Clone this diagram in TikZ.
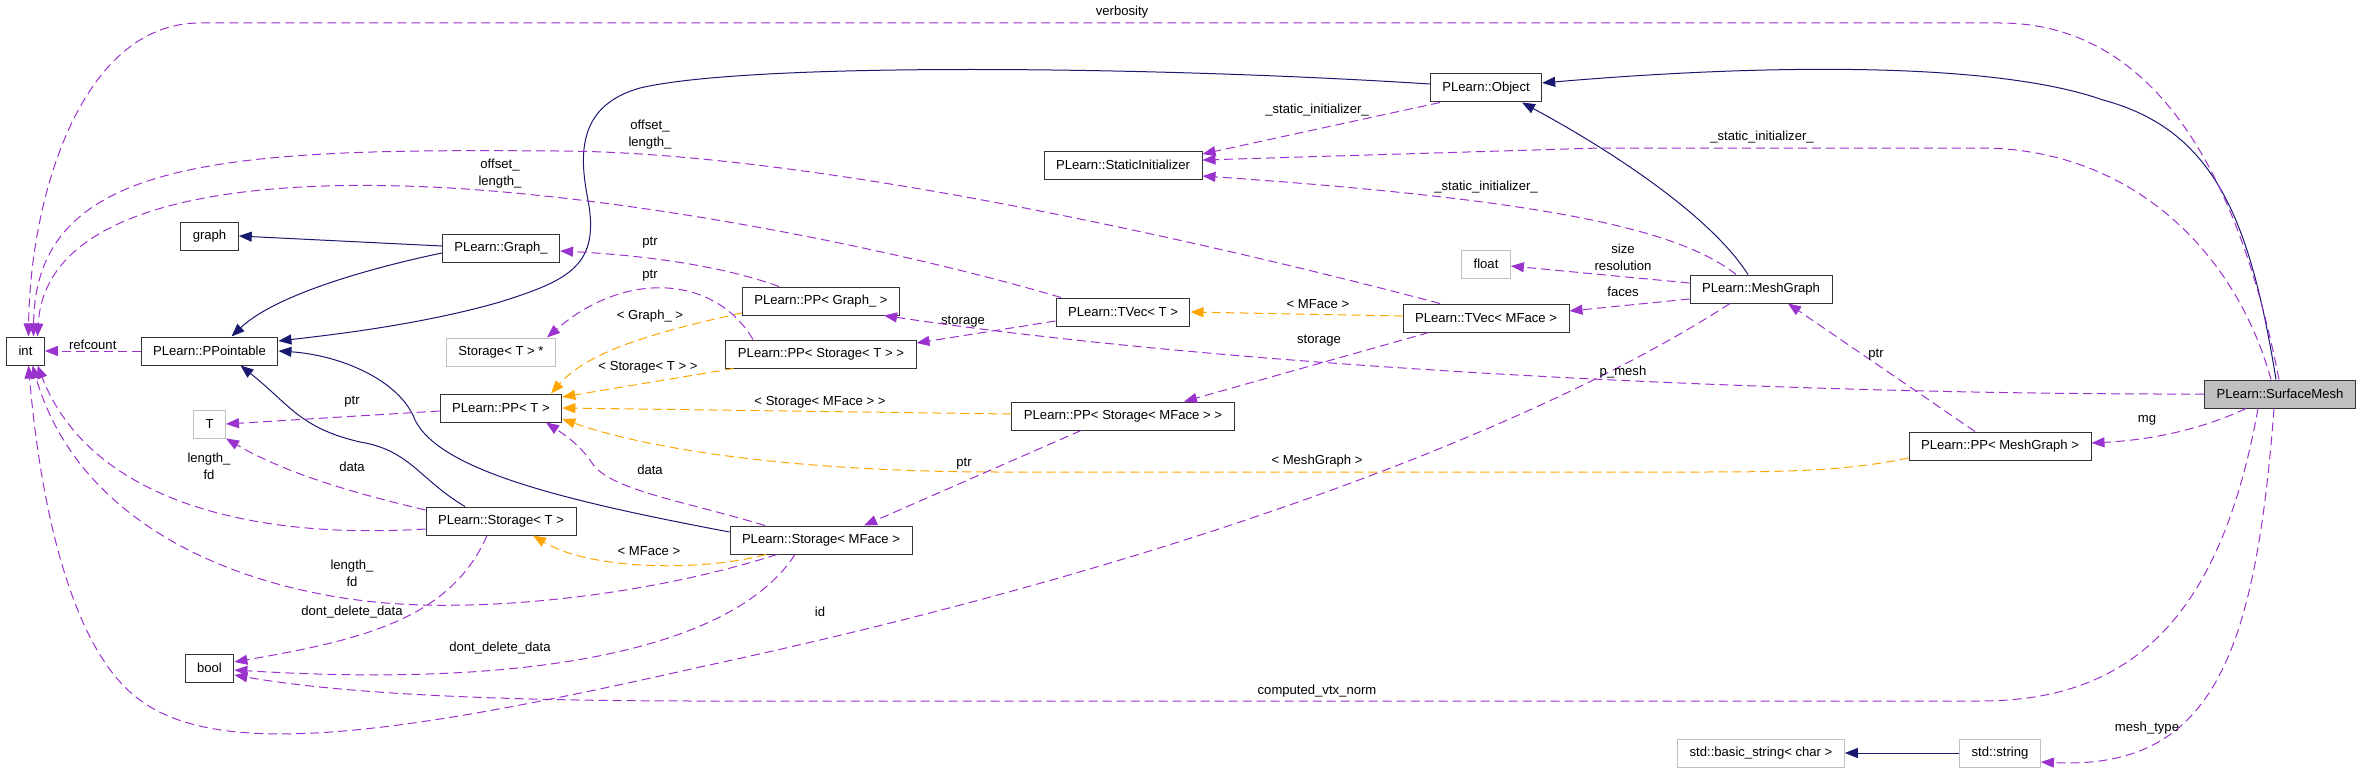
\documentclass[tikz,border=0pt]{standalone}
\usepackage{fontspec}
\setmainfont{Liberation Sans}
\usetikzlibrary{arrows.meta,positioning}
\definecolor{usec}{RGB}{154, 50, 205}
\definecolor{inhc}{RGB}{25, 25, 112}
\definecolor{tmplc}{RGB}{255, 165, 0}
\definecolor{extc}{RGB}{191, 191, 191}
\tikzset{
	cls/.style={
		rectangle, minimum height=28pt, inner xsep=12pt,
		line width=1pt, draw=black!80, fill=white, text=black
	},
	%
	extcls/.style={
		cls, draw=extc
	},
	%
	maincls/.style={
		cls, fill=extc
	},
	%
	inherit/.style={
		-{Triangle[length=13pt,width=10pt]}, line width=1pt, draw=inhc
	},
	%
	member/.style={
		-{Triangle[length=13pt,width=10pt]}, line width=1pt, draw=usec,
		dash pattern=on 9pt off 5pt
	},
	%
	tmpl/.style={
		member, draw=tmplc
	},
	%
	lbl/.style={
		inner sep=1pt, text=black
	}
}

\begin{document}
\begin{tikzpicture}[x=1pt, y=-1pt, font=\fontsize{13.1}{17}\selectfont]
\useasboundingbox (0,0) rectangle (2360,773);

\node(int)[cls] at (25.5,351) {int};
\node(pointable)[cls] at (209.5,351) {PLearn::PPointable};
\node(graph)[cls, above=86pt of pointable] {graph};
\node(tparam)[extcls, below=44pt of pointable] {T};
\node(bool)[cls] at (209.5,668) {bool};

\node(graphu)[cls] at (501,248) {PLearn::Graph\_};
\node(storageptr)[extcls] at (501,352) {Storage< T > *};
\node(ppt)[cls] at (501,408) {PLearn::PP< T >};
\node(storaget)[cls] at (501,521) {PLearn::Storage< T >};

\node(ppgraph)[cls] at (821,301) {PLearn::PP< Graph\_ >};
\node(ppstoraget)[cls] at (821,354) {PLearn::PP< Storage< T > >};
\node(storagemface)[cls] at (821,540) {PLearn::Storage< MFace >};

\node(staticinit)[cls] at (1123,165) {PLearn::StaticInitializer};
\node(tvect)[cls] at (1123,312) {PLearn::TVec< T >};
\node(ppstoragemface)[cls] at (1123,416) {PLearn::PP< Storage< MFace > >};

\node(object)[cls] at (1486,88) {PLearn::Object};
\node(tvecmface)[cls] at (1486,318) {PLearn::TVec< MFace >};
\node(floatt)[extcls, above=25pt of tvecmface] {float};

\node(meshgraph)[cls] at (1761,289) {PLearn::MeshGraph};
\node(basicstring)[extcls] at (1761,753) {std::basic\_string< char >};
\node(ppmeshgraph)[cls] at (2000,446) {PLearn::PP< MeshGraph >};
\node(stdstring)[extcls] at (2000,753) {std::string};
\node(surfacemesh)[maincls] at (2280,394) {PLearn::SurfaceMesh};

% base classes
\draw[inherit] ([xshift=-4pt]surfacemesh.north) .. controls (2250,220) and (2215,130) .. (2103,100) .. controls (1990,60) and (1750,65) .. ([yshift=5pt]object.east);
\draw[inherit] ([xshift=-13pt]meshgraph.north) .. controls (1710,215) and (1610,150) .. ([xshift=36pt]object.south);
\draw[inherit] ([yshift=4pt]object.west) .. controls (1150,66) and (750,62) .. (640,88) .. controls (580,105) and (578,150) .. (588,200) .. controls (600,265) and (570,280) .. (500,302) .. controls (420,325) and (330,335) .. ([yshift=10pt]pointable.east);
\draw[inherit] ([yshift=2pt]graphu.west) -- (graph.east);
\draw[inherit] ([yshift=-5pt]graphu.west) .. controls (370,268) and (275,295) .. ([xshift=22pt]pointable.north);
\draw[inherit] ([xshift=-36pt]storaget.north) .. controls (420,480) and (410,450) .. (360,442) .. controls (300,428) and (290,405) .. ([xshift=31pt]pointable.south);
\draw[inherit] ([yshift=8pt]storagemface.west) .. controls (560,500) and (440,470) .. (415,420) .. controls (400,380) and (340,355) .. (pointable.east);
\draw[inherit] (stdstring.west) -- (basicstring.east);

% template instances
\draw[tmpl] ([yshift=-12pt]ppgraph.west) .. controls (640,335) and (585,355) .. ([xshift=50pt]ppt.north) node[lbl, at={(650,316)}] {< Graph\_ >};
\draw[tmpl] ([xshift=8pt]ppstoraget.south west) -- ([yshift=11pt]ppt.east) node[lbl, at={(648,367)}] {< Storage< T > >};
\draw[tmpl] ([yshift=2pt]ppstoragemface.west) -- (ppt.east) node[lbl, at={(820,402)}] {< Storage< MFace > >};
\draw[tmpl] ([yshift=-12pt]ppmeshgraph.west) .. controls (1850,470) and (1800,472) .. (1700,472) -- (1000,472) .. controls (800,472) and (650,450) .. ([yshift=-11pt]ppt.east) node[lbl, at={(1317,461)}] {< MeshGraph >};
\draw[tmpl] ([yshift=2pt]tvecmface.west) -- (tvect.east) node[lbl, at={(1318,304)}] {< MFace >};
\draw[tmpl] ([xshift=-55pt]storagemface.south) .. controls (700,572) and (590,570) .. ([xshift=32pt]storaget.south) node[lbl, at={(649,551)}] {< MFace >};

% members
\draw[member] (pointable.west) -- node[lbl, above] {refcount} (int.east);
\draw[member] ([xshift=-1pt]surfacemesh.north) .. controls (2230,130) and (2130,23) .. (2000,23) -- (200,23) .. controls (80,23) and (30,200) .. ([xshift=3pt]int.north) node[lbl, at={(1122,12)}] {verbosity};
\draw[member] ([xshift=-46pt]tvecmface.north) .. controls (1200,240) and (800,150) .. (550,151) .. controls (220,148) and (35,160) .. ([xshift=8pt]int.north) node[lbl, align=center, at={(650,135)}] {offset\_\\length\_};
\draw[member] ([xshift=-62pt]tvect.north) .. controls (900,250) and (650,200) .. (450,188) .. controls (220,175) and (45,210) .. ([xshift=12pt]int.north) node[lbl, align=center, at={(500,174)}] {offset\_\\length\_};
\draw[member] ([yshift=-8pt]storaget.west) .. controls (250,540) and (90,500) .. ([xshift=12pt]int.south) node[lbl, align=center, at={(209,466)}] {length\_\\fd};
\draw[member] ([xshift=-44pt]storagemface.south) .. controls (650,595) and (500,610) .. (400,604) .. controls (250,595) and (80,530) .. ([xshift=7pt]int.south) node[lbl, align=center, at={(352,573)}] {length\_\\fd};
\draw[member] ([xshift=-31pt]meshgraph.south) .. controls (1550,420) and (1200,560) .. (700,667) .. controls (400,735) and (220,760) .. (140,700) .. controls (70,650) and (40,500) .. ([xshift=3pt]int.south) node[lbl, at={(820,612)}] {id};
\draw[member] ([xshift=-22pt]surfacemesh.south) .. controls (2220,620) and (2130,701) .. (1980,701) -- (700,701) .. controls (450,701) and (320,690) .. ([yshift=-7pt]bool.east) node[lbl, at={(1317,691)}] {computed\_vtx\_norm};
\draw[member] ([xshift=-14pt]storaget.south) .. controls (450,620) and (360,640) .. ([yshift=6pt]bool.east) node[lbl, at={(352,612)}] {dont\_delete\_data};
\draw[member] ([xshift=-26pt]storagemface.south) .. controls (740,640) and (560,690) .. ([yshift=-2pt]bool.east) node[lbl, at={(500,648)}] {dont\_delete\_data};
\draw[member] ([yshift=-3pt]ppt.west) -- (tparam.east) node[lbl, at={(352,402)}] {ptr};
\draw[member] ([yshift=11pt]storaget.west) .. controls (340,490) and (280,470) .. (tparam.south east) node[lbl, at={(352,467)}] {data};
\draw[member] ([xshift=-56pt]storagemface.north) .. controls (680,500) and (610,490) .. (592,463) .. controls (580,445) and (565,435) .. ([xshift=45pt]ppt.south) node[lbl, at={(650,470)}] {data};
\draw[member] ([xshift=-42pt]ppgraph.north) .. controls (720,265) and (640,255) .. ([yshift=-3pt]graphu.east) node[lbl, at={(650,243)}] {ptr};
\draw[member] ([xshift=-68pt]ppstoraget.north) .. controls (715,275) and (625,270) .. ([xshift=46pt]storageptr.north) node[lbl, at={(650,276)}] {ptr};
\draw[member] ([yshift=-9pt]tvect.west) -- ([yshift=11pt]ppstoraget.east) node[lbl, at={(963,322)}] {storage};
\draw[member] ([xshift=-57pt]tvecmface.south) -- ([xshift=61pt]ppstoragemface.north) node[lbl, at={(1319,341)}] {storage};
\draw[member] ([xshift=-42pt]ppstoragemface.south) -- ([xshift=43pt]storagemface.north) node[lbl, at={(964,464)}] {ptr};
\draw[member] ([xshift=-46pt]object.south) -- ([yshift=11pt]staticinit.east) node[lbl, at={(1317,110)}] {\_static\_initializer\_};
\draw[member] ([xshift=-9pt]surfacemesh.north) .. controls (2235,250) and (2130,148) .. (1980,148) -- (1600,148) -- ([yshift=5pt]staticinit.east) node[lbl, at={(1762,137)}] {\_static\_initializer\_};
\draw[member] ([xshift=-25pt]meshgraph.north) .. controls (1680,230) and (1550,200) .. ([yshift=-11pt]staticinit.east) node[lbl, at={(1486,187)}] {\_static\_initializer\_};
\draw[member] ([yshift=6pt]meshgraph.west) -- ([yshift=-2pt]floatt.east) node[lbl, align=center, at={(1623,257)}] {size\\resolution};
\draw[member] ([yshift=-10pt]meshgraph.west) -- ([yshift=7pt]tvecmface.east) node[lbl, at={(1623,292)}] {faces};
\draw[member] (surfacemesh.west) .. controls (1800,395) and (1250,370) .. ([xshift=63pt]ppgraph.south) node[lbl, at={(1623,372)}] {p\_mesh};
\draw[member] ([xshift=-34pt]surfacemesh.south) .. controls (2200,430) and (2150,440) .. ([yshift=3pt]ppmeshgraph.east) node[lbl, at={(2147,420)}] {mg};
\draw[member] ([xshift=-25pt]ppmeshgraph.north) -- ([xshift=27pt]meshgraph.south) node[lbl, at={(1876,355)}] {ptr};
\draw[member] ([xshift=-6pt]surfacemesh.south) .. controls (2255,660) and (2210,770) .. ([yshift=-9pt]stdstring.east) node[lbl, at={(2147,728)}] {mesh\_type};
\end{tikzpicture}
\end{document}
